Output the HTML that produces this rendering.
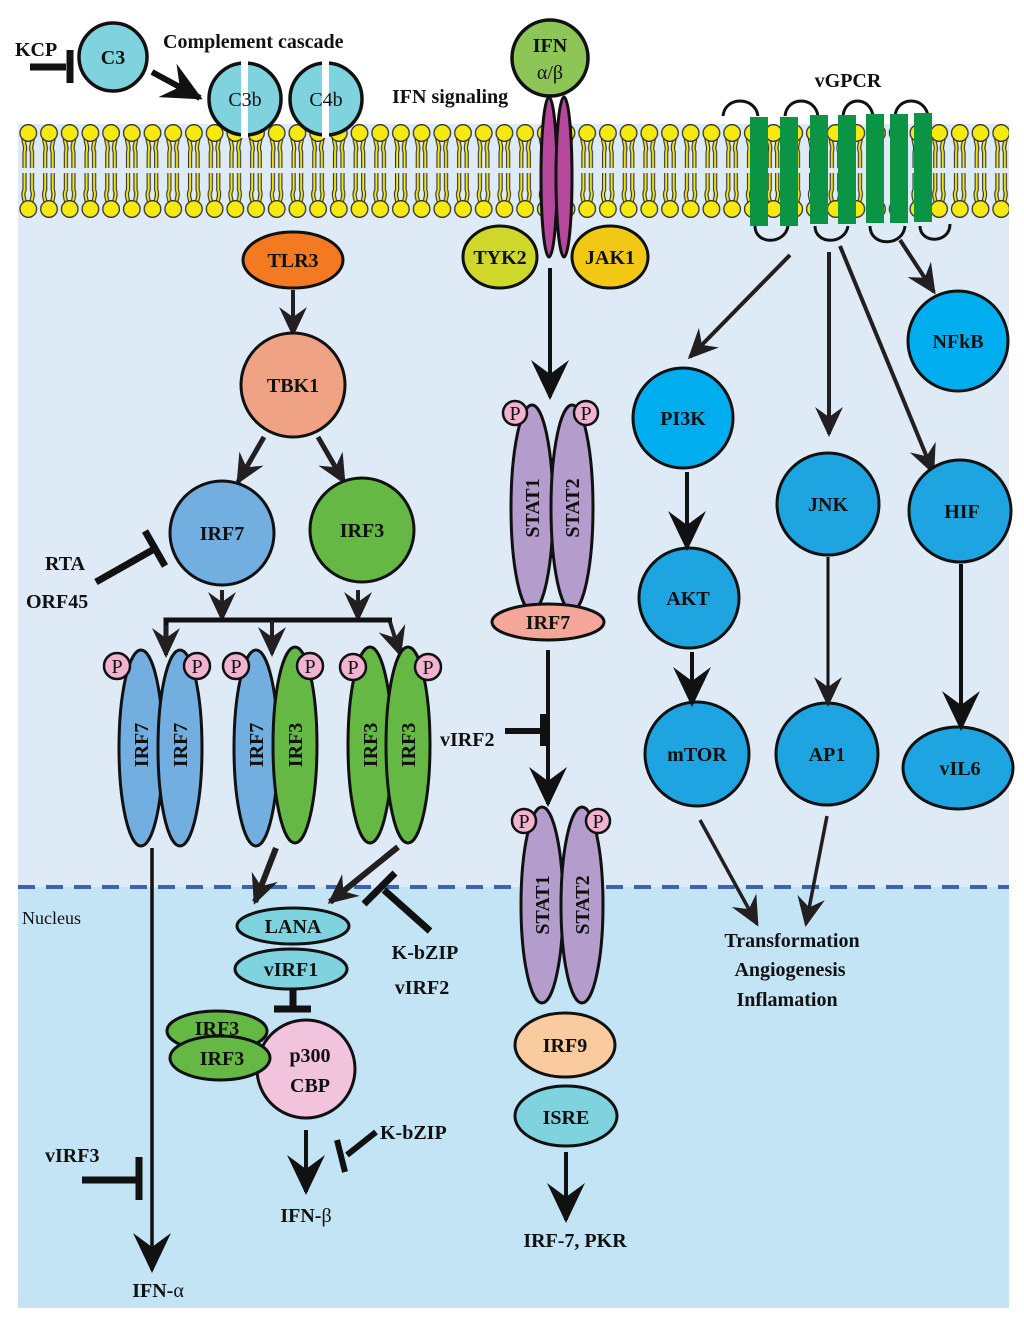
<!DOCTYPE html>
<html><head><meta charset="utf-8"><style>
html,body{margin:0;padding:0;background:#fff;}
svg{display:block;}
text{font-family:"Liberation Serif",serif;font-weight:bold;fill:#111;font-size:20px !important;}
</style></head><body>
<svg width="1024" height="1325" viewBox="0 0 1024 1325" xmlns="http://www.w3.org/2000/svg">
<defs>
<marker id="big" markerUnits="userSpaceOnUse" markerWidth="48" markerHeight="48" viewBox="-40 -24 48 48" refX="0" refY="0" orient="auto"><path d="M3,0 L-37,-19 L-23,0 L-37,19 Z" fill="#111"/></marker>
<marker id="sm" markerUnits="userSpaceOnUse" markerWidth="36" markerHeight="36" viewBox="-30 -18 36 36" refX="0" refY="0" orient="auto"><path d="M3,0 L-27,-14 L-17,0 L-27,14 Z" fill="#231f20"/></marker>
<pattern id="lip" x="18" y="120" width="20.7" height="100" patternUnits="userSpaceOnUse">
<path d="M6.5,13 C3,20 9,26 6.5,32 L6.5,48 M14,13 C17,20 11,26 14,32 L14,48 M6.5,53 L6.5,70 C3,76 9,82 6.5,88 M14,53 L14,70 C17,76 11,82 14,88" stroke="#333" stroke-width="4.2" fill="none"/>
<path d="M6.5,13 C3,20 9,26 6.5,32 L6.5,48 M14,13 C17,20 11,26 14,32 L14,48 M6.5,53 L6.5,70 C3,76 9,82 6.5,88 M14,53 L14,70 C17,76 11,82 14,88" stroke="#f2e614" stroke-width="2" fill="none"/>
<circle cx="10.3" cy="13" r="8.3" fill="#f5e90f" stroke="#333" stroke-width="1.3"/>
<circle cx="10.3" cy="89" r="8.3" fill="#f5e90f" stroke="#333" stroke-width="1.3"/>
</pattern>
</defs>

<rect x="18" y="124" width="991" height="763" fill="#deebf6"/>
<rect x="18" y="887" width="991" height="421" fill="#c3e4f5"/>
<line x1="18" y1="887" x2="1009" y2="887" stroke="#3c62b4" stroke-width="4" stroke-dasharray="17,11"/>
<rect x="18" y="120" width="991" height="100" fill="url(#lip)"/>
<rect x="0" y="112" width="18" height="112" fill="#fff"/>
<rect x="1009" y="112" width="15" height="112" fill="#fff"/>

<text x="22" y="924" style="font-weight:normal;font-size:18px !important">Nucleus</text>

<text x="15" y="56">KCP</text>
<line x1="30" y1="67" x2="66" y2="67" stroke="#111" stroke-width="7"/>
<line x1="70" y1="50" x2="70" y2="83" stroke="#111" stroke-width="7"/>
<circle cx="113" cy="57" r="34" fill="#7fd3df" stroke="#111" stroke-width="3.5"/>
<text x="113" y="64" text-anchor="middle">C3</text>
<text x="163" y="48">Complement cascade</text>
<line x1="152" y1="72" x2="200" y2="98" stroke="#111" stroke-width="6" marker-end="url(#big)"/>
<circle cx="245" cy="99" r="36" fill="#7fd3df" stroke="#111" stroke-width="3.5"/>
<rect x="241" y="60" width="7" height="78" fill="#fff"/>
<text x="245" y="106" text-anchor="middle" style="font-weight:normal">C3b</text>
<circle cx="326" cy="99" r="36" fill="#7fd3df" stroke="#111" stroke-width="3.5"/>
<rect x="322" y="60" width="7" height="78" fill="#fff"/>
<text x="326" y="106" text-anchor="middle" style="font-weight:normal">C4b</text>

<text x="392" y="103">IFN signaling</text>
<circle cx="550" cy="58" r="38" fill="#8dc657" stroke="#111" stroke-width="3.5"/>
<text x="550" y="52" text-anchor="middle">IFN</text>
<text x="550" y="79" text-anchor="middle" style="font-weight:normal">α/β</text>
<ellipse cx="549" cy="177" rx="8" ry="80" fill="#b5489b" stroke="#111" stroke-width="3"/>
<ellipse cx="564" cy="177" rx="8" ry="80" fill="#b5489b" stroke="#111" stroke-width="3"/>
<ellipse cx="500" cy="257" rx="37" ry="31" fill="#cfd82a" stroke="#111" stroke-width="3"/>
<text x="500" y="264" text-anchor="middle">TYK2</text>
<ellipse cx="610" cy="257" rx="38" ry="31" fill="#f1c914" stroke="#111" stroke-width="3"/>
<text x="610" y="264" text-anchor="middle">JAK1</text>
<line x1="550" y1="268" x2="550" y2="397" stroke="#111" stroke-width="4" marker-end="url(#big)"/>

<ellipse cx="532" cy="508" rx="21" ry="103" fill="#b49ccc" stroke="#111" stroke-width="3"/>
<ellipse cx="572" cy="508" rx="21" ry="103" fill="#b49ccc" stroke="#111" stroke-width="3"/>
<circle cx="515" cy="413" r="12" fill="#f1b3d0" stroke="#111" stroke-width="2.5"/>
<text x="515" y="420" text-anchor="middle" style="font-weight:normal">P</text>
<circle cx="586" cy="413" r="12" fill="#f1b3d0" stroke="#111" stroke-width="2.5"/>
<text x="586" y="420" text-anchor="middle" style="font-weight:normal">P</text>
<text transform="translate(539,508) rotate(-90)" text-anchor="middle">STAT1</text>
<text transform="translate(579,508) rotate(-90)" text-anchor="middle">STAT2</text>
<ellipse cx="548" cy="622" rx="56" ry="18" fill="#f4a698" stroke="#111" stroke-width="3"/>
<text x="548" y="629" text-anchor="middle">IRF7</text>
<line x1="548" y1="650" x2="548" y2="804" stroke="#111" stroke-width="4" marker-end="url(#big)"/>
<text x="440" y="746">vIRF2</text>
<line x1="505" y1="731" x2="540" y2="731" stroke="#111" stroke-width="6"/>
<line x1="543" y1="714" x2="543" y2="746" stroke="#111" stroke-width="6"/>

<ellipse cx="542" cy="905" rx="21" ry="98" fill="#b49ccc" stroke="#111" stroke-width="3"/>
<ellipse cx="582" cy="905" rx="21" ry="98" fill="#b49ccc" stroke="#111" stroke-width="3"/>
<circle cx="524" cy="821" r="12" fill="#f1b3d0" stroke="#111" stroke-width="2.5"/>
<text x="524" y="828" text-anchor="middle" style="font-weight:normal">P</text>
<circle cx="598" cy="821" r="12" fill="#f1b3d0" stroke="#111" stroke-width="2.5"/>
<text x="598" y="828" text-anchor="middle" style="font-weight:normal">P</text>
<text transform="translate(549,905) rotate(-90)" text-anchor="middle">STAT1</text>
<text transform="translate(589,905) rotate(-90)" text-anchor="middle">STAT2</text>
<ellipse cx="565" cy="1045" rx="50" ry="32" fill="#fbcba0" stroke="#111" stroke-width="3"/>
<text x="565" y="1052" text-anchor="middle">IRF9</text>
<ellipse cx="566" cy="1116" rx="51" ry="30" fill="#7fd3df" stroke="#111" stroke-width="3"/>
<text x="566" y="1124" text-anchor="middle">ISRE</text>
<line x1="566" y1="1152" x2="566" y2="1220" stroke="#111" stroke-width="4" marker-end="url(#big)"/>
<text x="575" y="1247" text-anchor="middle">IRF-7, PKR</text>

<ellipse cx="293" cy="260" rx="50" ry="28" fill="#f47a22" stroke="#111" stroke-width="3"/>
<text x="293" y="267" text-anchor="middle">TLR3</text>
<line x1="293" y1="290" x2="293" y2="334" stroke="#231f20" stroke-width="4" marker-end="url(#sm)"/>
<circle cx="293" cy="385" r="52" fill="#f0a285" stroke="#111" stroke-width="3"/>
<text x="293" y="392" text-anchor="middle">TBK1</text>
<line x1="264" y1="437" x2="238" y2="482" stroke="#231f20" stroke-width="5" marker-end="url(#sm)"/>
<line x1="318" y1="437" x2="344" y2="482" stroke="#231f20" stroke-width="5" marker-end="url(#sm)"/>
<circle cx="222" cy="533" r="52" fill="#73aee0" stroke="#111" stroke-width="3"/>
<text x="222" y="540" text-anchor="middle">IRF7</text>
<circle cx="362" cy="530" r="52" fill="#66b844" stroke="#111" stroke-width="3"/>
<text x="362" y="537" text-anchor="middle">IRF3</text>
<text x="45" y="570">RTA</text>
<text x="26" y="608">ORF45</text>
<line x1="96" y1="582" x2="156" y2="548" stroke="#111" stroke-width="7"/>
<line x1="145" y1="531" x2="165" y2="566" stroke="#111" stroke-width="7"/>

<line x1="222" y1="590" x2="222" y2="619" stroke="#231f20" stroke-width="4" marker-end="url(#sm)"/>
<line x1="358" y1="590" x2="358" y2="619" stroke="#231f20" stroke-width="4" marker-end="url(#sm)"/>
<polyline points="166,652 166,620 392,620" fill="none" stroke="#111" stroke-width="5"/>
<line x1="166" y1="625" x2="166" y2="655" stroke="#231f20" stroke-width="4" marker-end="url(#sm)"/>
<line x1="272" y1="620" x2="272" y2="654" stroke="#231f20" stroke-width="4" marker-end="url(#sm)"/>
<line x1="390" y1="622" x2="400" y2="654" stroke="#231f20" stroke-width="4" marker-end="url(#sm)"/>

<g stroke="#111" stroke-width="3">
<ellipse cx="141" cy="748" rx="22" ry="98" fill="#73aee0"/>
<ellipse cx="180" cy="748" rx="22" ry="98" fill="#73aee0"/>
<ellipse cx="256" cy="748" rx="22" ry="98" fill="#73aee0"/>
<ellipse cx="295" cy="745" rx="22" ry="98" fill="#66b844"/>
<ellipse cx="370" cy="745" rx="22" ry="98" fill="#66b844"/>
<ellipse cx="408" cy="745" rx="22" ry="98" fill="#66b844"/>
</g>
<g stroke="#111" stroke-width="2.5" fill="#f1b3d0">
<circle cx="117" cy="666" r="13"/><circle cx="197" cy="666" r="13"/>
<circle cx="236" cy="666" r="13"/><circle cx="310" cy="666" r="13"/>
<circle cx="353" cy="667" r="13"/><circle cx="428" cy="667" r="13"/>
</g>
<g text-anchor="middle">
<text x="117" y="673" style="font-weight:normal">P</text><text x="197" y="673" style="font-weight:normal">P</text>
<text x="236" y="673" style="font-weight:normal">P</text><text x="310" y="673" style="font-weight:normal">P</text>
<text x="353" y="674" style="font-weight:normal">P</text><text x="428" y="674" style="font-weight:normal">P</text>
</g>
<g text-anchor="middle">
<text transform="translate(148,745) rotate(-90)">IRF7</text>
<text transform="translate(187,745) rotate(-90)">IRF7</text>
<text transform="translate(263,745) rotate(-90)">IRF7</text>
<text transform="translate(302,745) rotate(-90)">IRF3</text>
<text transform="translate(377,745) rotate(-90)">IRF3</text>
<text transform="translate(415,745) rotate(-90)">IRF3</text>
</g>

<line x1="152" y1="848" x2="152" y2="1270" stroke="#111" stroke-width="3.5" marker-end="url(#big)"/>
<text x="158" y="1297" text-anchor="middle">IFN-<tspan style="font-weight:normal">α</tspan></text>
<text x="45" y="1162">vIRF3</text>
<line x1="82" y1="1180" x2="136" y2="1180" stroke="#111" stroke-width="7"/>
<line x1="139" y1="1157" x2="139" y2="1200" stroke="#111" stroke-width="7"/>

<line x1="276" y1="848" x2="255" y2="902" stroke="#231f20" stroke-width="6" marker-end="url(#sm)"/>
<line x1="398" y1="847" x2="330" y2="902" stroke="#231f20" stroke-width="6" marker-end="url(#sm)"/>
<line x1="430" y1="931" x2="384" y2="890" stroke="#111" stroke-width="7"/>
<line x1="364" y1="904" x2="395" y2="873" stroke="#111" stroke-width="7"/>
<text x="425" y="959" text-anchor="middle">K-bZIP</text>
<text x="422" y="994" text-anchor="middle">vIRF2</text>

<ellipse cx="293" cy="926" rx="56" ry="18" fill="#7fd3df" stroke="#111" stroke-width="3"/>
<text x="293" y="933" text-anchor="middle">LANA</text>
<ellipse cx="291" cy="969" rx="56" ry="20" fill="#7fd3df" stroke="#111" stroke-width="3"/>
<text x="291" y="976" text-anchor="middle">vIRF1</text>
<line x1="293" y1="989" x2="293" y2="1006" stroke="#111" stroke-width="7"/>
<line x1="274" y1="1009" x2="311" y2="1009" stroke="#111" stroke-width="7"/>

<ellipse cx="217" cy="1031" rx="50" ry="20" fill="#66b844" stroke="#111" stroke-width="3"/>
<circle cx="306" cy="1069" r="49" fill="#f2c3dc" stroke="#111" stroke-width="3"/>
<ellipse cx="220" cy="1058" rx="50" ry="22" fill="#66b844" stroke="#111" stroke-width="3"/>
<text x="217" y="1035" text-anchor="middle">IRF3</text>
<text x="222" y="1065" text-anchor="middle">IRF3</text>
<text x="310" y="1062" text-anchor="middle">p300</text>
<text x="310" y="1092" text-anchor="middle">CBP</text>
<line x1="306" y1="1130" x2="306" y2="1192" stroke="#111" stroke-width="4" marker-end="url(#big)"/>
<line x1="376" y1="1132" x2="347" y2="1155" stroke="#111" stroke-width="6"/>
<line x1="337" y1="1140" x2="345" y2="1172" stroke="#111" stroke-width="6"/>
<text x="380" y="1139">K-bZIP</text>
<text x="306" y="1222" text-anchor="middle">IFN-<tspan style="font-weight:normal">β</tspan></text>

<text x="848" y="87" text-anchor="middle">vGPCR</text>
<g fill="none" stroke="#111" stroke-width="3">
<path d="M723,116 C725,96 755,96 758,116"/>
<path d="M785,116 C787,96 815,96 818,116"/>
<path d="M843,116 C845,96 870,96 873,116"/>
<path d="M895,116 C897,96 925,96 928,116"/>
<path d="M755,226 C755,245 785,245 788,226"/>
<path d="M815,226 C815,245 845,245 848,226"/>
<path d="M870,226 C870,247 903,247 905,226"/>
<path d="M920,226 C920,244 950,244 950,224"/>
</g>
<g fill="#0b9444">
<rect x="750" y="117" width="18" height="109"/>
<rect x="780" y="117" width="18" height="109"/>
<rect x="810" y="115" width="18" height="109"/>
<rect x="838" y="115" width="18" height="109"/>
<rect x="866" y="114" width="18" height="109"/>
<rect x="890" y="114" width="18" height="109"/>
<rect x="914" y="113" width="18" height="109"/>
</g>
<g stroke="#231f20" stroke-width="4">
<line x1="790" y1="255" x2="690" y2="357" marker-end="url(#sm)"/>
<line x1="829" y1="252" x2="829" y2="434" marker-end="url(#sm)"/>
<line x1="840" y1="246" x2="933" y2="472" marker-end="url(#sm)"/>
<line x1="900" y1="240" x2="934" y2="292" marker-end="url(#sm)"/>
</g>
<g stroke="#111" stroke-width="3" fill="#1ea4e0">
<circle cx="958" cy="341" r="50" fill="#00aeef"/>
<circle cx="683" cy="418" r="50" fill="#00aeef"/>
<circle cx="828" cy="504" r="51"/>
<circle cx="960" cy="511" r="51"/>
<circle cx="689" cy="598" r="50"/>
<circle cx="697" cy="754" r="52"/>
<circle cx="827" cy="754" r="51"/>
<ellipse cx="958" cy="768" rx="55" ry="41"/>
</g>
<g text-anchor="middle">
<text x="958" y="348">NFkB</text>
<text x="683" y="425">PI3K</text>
<text x="828" y="511">JNK</text>
<text x="962" y="518">HIF</text>
<text x="688" y="605">AKT</text>
<text x="697" y="761">mTOR</text>
<text x="827" y="761">AP1</text>
<text x="960" y="775">vIL6</text>
</g>
<line x1="687" y1="472" x2="687" y2="548" stroke="#111" stroke-width="4" marker-end="url(#big)"/>
<line x1="692" y1="652" x2="692" y2="704" stroke="#111" stroke-width="4" marker-end="url(#big)"/>
<line x1="828" y1="557" x2="828" y2="704" stroke="#111" stroke-width="3" marker-end="url(#sm)"/>
<line x1="961" y1="564" x2="961" y2="728" stroke="#111" stroke-width="4" marker-end="url(#big)"/>
<line x1="700" y1="820" x2="757" y2="924" stroke="#231f20" stroke-width="3.5" marker-end="url(#sm)"/>
<line x1="827" y1="816" x2="806" y2="924" stroke="#231f20" stroke-width="3.5" marker-end="url(#sm)"/>
<g text-anchor="middle">
<text x="792" y="947">Transformation</text>
<text x="790" y="976">Angiogenesis</text>
<text x="787" y="1006">Inflamation</text>
</g>
</svg>
</body></html>
